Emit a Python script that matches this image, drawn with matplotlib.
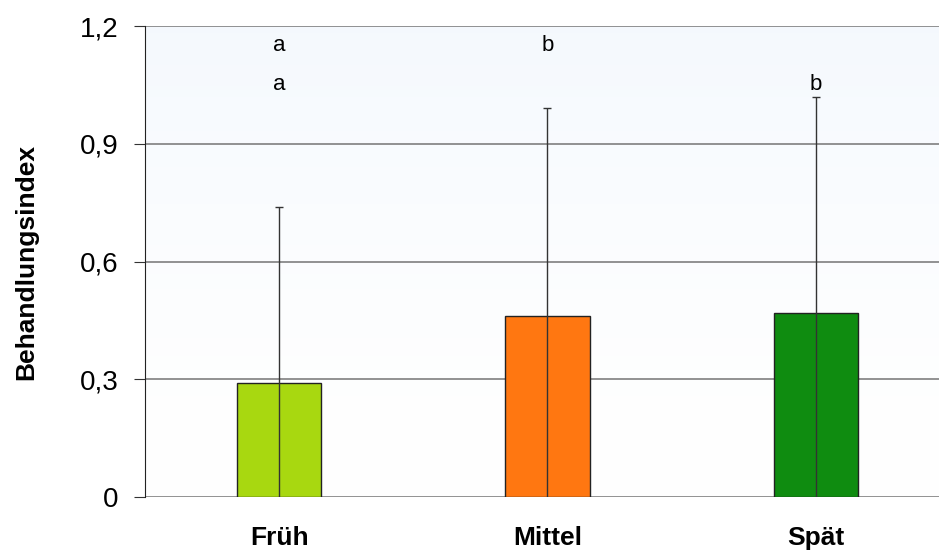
import numpy as np
import matplotlib.pyplot as plt
from matplotlib.ticker import FuncFormatter

categories = ['Früh', 'Mittel', 'Spät']
values = [0.29, 0.46, 0.47]
errors = [0.45, 0.53, 0.55]
letters_top = ['a', 'b', '']
letters_bottom = ['a', '', 'b']
colors = ['#A8D810', '#FF7711', '#0F8C10']

plt.rcParams['font.family'] = ['Liberation Sans', 'DejaVu Sans']

fig = plt.figure(figsize=(9.39, 5.52), dpi=100)
ax = fig.add_axes([145 / 939, 55 / 552, 805 / 939, 471 / 552])

# faint blue gradient in the plot area
grad = np.linspace(0, 1, 256).reshape(-1, 1)
top = np.array([0.960, 0.976, 0.995])
bottom = np.array([1.0, 1.0, 1.0])
img = bottom + (top - bottom) * grad[..., None] ** 1.5
ax.imshow(img, extent=[-0.5, 2.5, 0, 1.2], origin='lower', aspect='auto', zorder=0)

x = np.arange(len(categories))
ax.set_axisbelow(True)
ax.yaxis.grid(True, color='#7f7f7f', lw=1.2, zorder=1)
ax.bar(x, values, width=0.315, color=colors, edgecolor='#222222', lw=1, zorder=2)
ax.errorbar(x, values, yerr=errors, fmt='none', ecolor='#333333', elinewidth=1,
            capsize=3, capthick=1, zorder=3)

for i in range(len(categories)):
    ax.text(x[i], 1.15, letters_top[i], ha='center', va='center', fontsize=16)
    ax.text(x[i], 1.05, letters_bottom[i], ha='center', va='center', fontsize=16)

ax.set_xlim(-0.5, 2.5)
ax.set_ylim(0, 1.2)
ax.set_yticks([0, 0.3, 0.6, 0.9, 1.2])
ax.yaxis.set_major_formatter(FuncFormatter(lambda v, p: ('%g' % round(v, 1)).replace('.', ',')))
ax.set_xticks(x)
ax.set_xticklabels(categories, fontsize=19, fontweight='bold')
ax.tick_params(axis='x', length=0, pad=21)
ax.tick_params(axis='y', length=8, direction='out', labelsize=20, pad=11, color='#333333')
ax.set_ylabel('Behandlungsindex', fontsize=19, fontweight='bold', labelpad=30)

for s in ['top', 'right', 'bottom']:
    ax.spines[s].set_visible(False)
ax.spines['left'].set_color('#222222')

fig.savefig('out.png', dpi=100)
